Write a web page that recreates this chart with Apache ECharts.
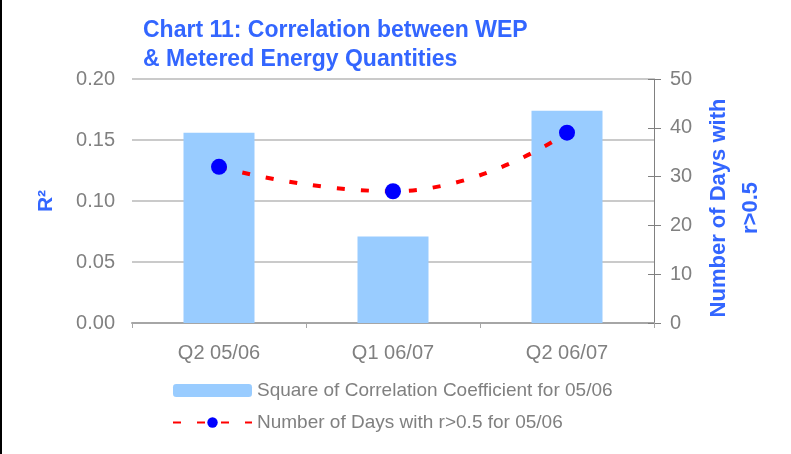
<!DOCTYPE html>
<html>
<head>
<meta charset="utf-8">
<script src="https://cdn.jsdelivr.net/npm/echarts@6/dist/echarts.min.js"></script>
<style>
  html, body { margin: 0; padding: 0; background: #fff; }
  #chart { width: 791px; height: 454px; }
</style>
</head>
<body>
<div id="chart"></div>
<script>
// chart data
var categories = ['Q2 05/06', 'Q1 06/07', 'Q2 06/07'];
var rSquared = [0.156, 0.071, 0.174];
var daysAbove = [32, 27, 39];
var leftTicks = [0, 0.05, 0.10, 0.15, 0.20];
var rightTicks = [0, 10, 20, 30, 40, 50];

var blue = '#3366ff';
var grey = '#808080';

var chart = echarts.init(document.getElementById('chart'));

chart.setOption({
  animation: false,
  textStyle: { fontFamily: 'Liberation Sans, Arial, sans-serif' },
  title: {
    text: 'Chart 11: Correlation between WEP\n& Metered Energy Quantities',
    left: 138,
    top: 11,
    textStyle: { color: blue, fontSize: 23, fontWeight: 'bold', lineHeight: 29 }
  },
  graphic: [{
    type: 'rect',
    left: 0, top: 0,
    shape: { width: 2, height: 454 },
    style: { fill: '#000' }
  }],
  legend: {
    orient: 'vertical',
    left: 167,
    top: 376,
    itemWidth: 79,
    itemHeight: 13,
    itemGap: 13,
    textStyle: { color: grey, fontSize: 19, lineHeight: 19 },
    data: [
      { name: 'Square of Correlation Coefficient for 05/06' },
      { name: 'Number of Days with r>0.5 for 05/06' }
    ]
  },
  grid: { left: 132, right: 137, top: 79, bottom: 131 },
  xAxis: {
    type: 'category',
    data: categories,
    axisLine: { lineStyle: { color: '#a6a6a6', width: 2 } },
    axisTick: { show: true, length: 5, lineStyle: { color: '#a6a6a6' } },
    axisLabel: { color: grey, fontSize: 20, margin: 20 }
  },
  yAxis: [{
    type: 'value',
    min: leftTicks[0],
    max: leftTicks[leftTicks.length - 1],
    interval: 0.05,
    name: 'R²',
    nameLocation: 'middle',
    nameRotate: 90,
    nameGap: 75,
    nameTextStyle: { color: blue, fontSize: 21, fontWeight: 'bold' },
    axisLine: { show: false },
    axisTick: { show: false },
    axisLabel: {
      color: grey, fontSize: 20, margin: 17,
      formatter: function (v) { return v.toFixed(2); }
    },
    splitLine: { lineStyle: { color: '#b8b8b8', width: 1.5 } }
  }, {
    type: 'value',
    position: 'right',
    min: rightTicks[0],
    max: rightTicks[rightTicks.length - 1],
    interval: 10,
    name: 'Number of Days with\nr>0.5',
    nameLocation: 'middle',
    nameRotate: 90,
    nameGap: 49,
    nameTextStyle: {
      color: blue, fontSize: 22, fontWeight: 'bold', lineHeight: 32,
      padding: [0, 14, 0, 0]
    },
    axisLine: { show: true, lineStyle: { color: grey, width: 1 } },
    axisTick: { show: true, length: 7, lineStyle: { color: grey } },
    axisLabel: { color: grey, fontSize: 20, margin: 16 },
    splitLine: { show: false }
  }, {
    // inner half of the crossing ticks on the right axis
    type: 'value',
    position: 'right',
    min: rightTicks[0],
    max: rightTicks[rightTicks.length - 1],
    interval: 10,
    axisLine: { show: false },
    axisTick: { show: true, inside: true, length: 6, lineStyle: { color: grey } },
    axisLabel: { show: false },
    splitLine: { show: false }
  }],
  series: [{
    name: 'Square of Correlation Coefficient for 05/06',
    type: 'bar',
    data: rSquared,
    barWidth: 71,
    itemStyle: { color: '#99ccff' }
  }, {
    name: 'Number of Days with r>0.5 for 05/06',
    type: 'line',
    yAxisIndex: 1,
    data: daysAbove,
    smooth: 0.5,
    symbol: 'circle',
    symbolSize: 16,
    itemStyle: { color: '#0000ff' },
    lineStyle: { color: '#ff0000', width: 4, type: [8, 16] }
  }]
});
</script>
</body>
</html>
